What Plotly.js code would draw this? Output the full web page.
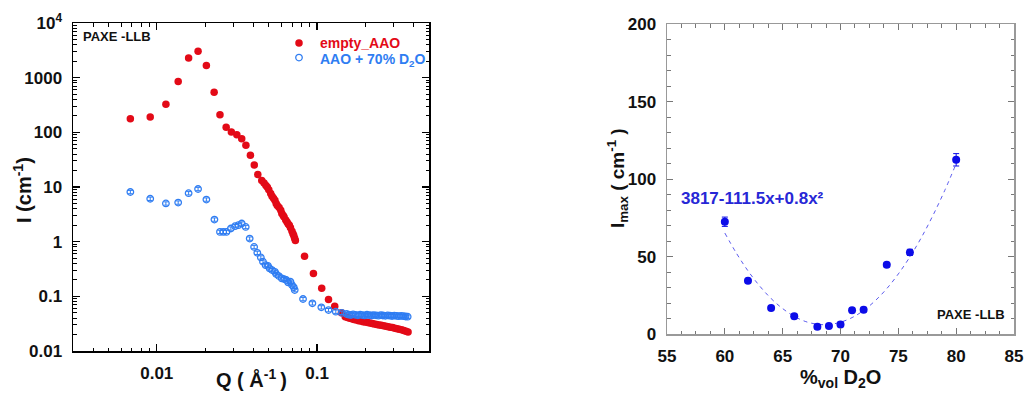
<!DOCTYPE html>
<html><head><meta charset="utf-8">
<script src="https://cdn.plot.ly/plotly-3.0.1.min.js"></script>
<style>html,body{margin:0;padding:0;background:#fff}#chart{width:1026px;height:394px}</style>
</head><body><div id="chart"></div>
<script>
// ---- Left panel: I(Q) ----
const Q_empty = [0.00684,0.0091,0.0114,0.0136,0.0158,0.0181,0.0204,0.0228,0.0248,0.0271,
  0.0292,0.0316,0.0339,0.0360,0.0384,0.0406,0.0427,0.0452,0.0467,0.0480,
  0.0490,0.0500,0.0514,0.0524,0.0535,0.0546,0.0556,0.0565,0.0580,0.0594,
  0.0603,0.0615,0.0623,0.0638,0.0650,0.0661,0.0672,0.0683,0.0698,0.0708,
  0.0716,0.0725,0.0733,0.0836,0.0950,0.107,0.118,0.129,0.142,
  0.150,0.155,0.160,0.165,0.170,0.176,0.182,0.188,0.194,0.200,
  0.207,0.214,0.221,0.228,0.236,0.244,0.252,0.260,0.269,0.278,
  0.287,0.296,0.306,0.316,0.326,0.337,0.348,0.359,0.370];
const I_empty = [177,190,327,849,2296,3034,1663,542,209,124,
  101,90,76,58,37.9,25.2,17.0,13.2,11.8,10.7,
  9.9,8.9,7.6,6.8,6.2,5.7,5.0,4.6,4.2,3.76,
  3.27,3.0,2.84,2.5,2.3,2.1,2.0,1.8,1.55,1.4,
  1.3,1.15,1.05,0.543,0.263,0.140,0.0875,0.0656,0.0502,
  0.0425,0.0412,0.0398,0.0388,0.0376,0.0368,0.0357,0.0352,0.0344,0.0338,
  0.0333,0.0325,0.0318,0.0312,0.0306,0.0300,0.0296,0.0290,0.0284,0.0279,
  0.0273,0.0268,0.0262,0.0256,0.0251,0.0244,0.0238,0.0230,0.0222];

const Q_d2o = [0.00684,0.0091,0.0114,0.0136,0.0158,0.0181,0.0204,0.0229,0.0248,0.0260,
  0.0272,0.0290,0.0308,0.0323,0.0339,0.0359,0.0380,0.0405,0.0424,0.0446,
  0.0460,0.0478,0.0494,0.0506,0.0524,0.0546,0.0556,0.0578,0.0603,0.0623,
  0.0643,0.0661,0.0683,0.0698,0.0716,0.0726,0.0818,0.0936,0.1064,0.118,0.131,0.143,
  0.153,0.158,0.163,0.168,0.174,0.180,0.186,0.192,0.198,0.205,
  0.212,0.219,0.226,0.234,0.242,0.250,0.258,0.267,0.276,0.285,
  0.294,0.304,0.314,0.324,0.335,0.346,0.357,0.368];
const I_d2o = [8.1,6.1,5.0,5.2,7.7,9.2,5.9,2.54,1.51,1.51,
  1.51,1.74,1.92,2.0,2.15,1.86,1.14,0.80,0.625,0.515,
  0.43,0.372,0.362,0.324,0.302,0.281,0.255,0.235,0.213,0.207,
  0.199,0.180,0.185,0.161,0.146,0.130,0.0893,0.0745,0.063,0.056,0.0524,0.050,
  0.0475,0.0462,0.0455,0.0468,0.0458,0.0450,0.0462,0.0455,0.0448,0.0460,
  0.0452,0.0446,0.0455,0.0449,0.0443,0.0452,0.0446,0.0440,0.0448,0.0442,
  0.0437,0.0445,0.0438,0.0433,0.0440,0.0434,0.0428,0.0425];

const seriesNames = ['empty_AAO', 'AAO + 70% D<sub>2</sub>O'];
const yTickVals = [0.01,0.1,1,10,100,1000,10000];
const yTickText = ['0.01','0.1','1','10','100','1000','10<sup>4</sup>'];
const xTickVals = [0.01,0.1];
const xTickText = ['0.01','0.1'];

// ---- Right panel: Imax vs %vol D2O ----
const D2O_pct = [60,62,64,66,68,69,70,71,72,74,76,80];
const I_max = [72.5,34.4,16.8,11.4,4.7,5.2,6.2,15.3,15.7,44.7,52.7,112.5];
const I_max_err = [3,1.5,1.5,1.5,1.5,1.5,1.5,1.5,1.5,1.5,2,4];
const fit_x = [60,61,62,63,64,65,66,67,68,69,70,71,72,73,74,75,76,77,78,79,80];
const fit_y = [65.2,52.2,40.8,31.1,22.9,16.4,11.4,8.0,6.3,6.1,7.6,10.6,15.2,21.5,29.3,38.8,49.8,62.4,76.7,92.5,110];
const fitLabel = '3817-111.5x+0.8x²';

// minor tick positions for the log axes
function logMinor(lo, hi){ const v=[]; for(let e=lo;e<hi;e++){for(let m=2;m<=9;m++) v.push(m*Math.pow(10,e));} return v; }

const FONT = 'Arial, "Liberation Sans", sans-serif';
const RED = '#e30a17', BLUE_L = '#2f7df2', BLUE_R = '#0c0ce8';

const traces = [
  {x:Q_empty, y:I_empty, type:'scatter', mode:'markers', name:' ', legend:'legend',
   marker:{symbol:'circle', size:7.5, color:RED}, xaxis:'x', yaxis:'y'},
  {x:Q_d2o, y:I_d2o, type:'scatter', mode:'markers', name:' ', legend:'legend2',
   marker:{symbol:'circle-open', size:6.5, color:BLUE_L, line:{width:1.3}},
   error_y:{type:'percent', value:7, color:BLUE_L, thickness:1, width:2.5},
   xaxis:'x', yaxis:'y'},
  {x:fit_x, y:fit_y, type:'scatter', mode:'lines', showlegend:false,
   line:{color:'#5b5bee', width:1, dash:'4px,4px', shape:'spline'}, xaxis:'x2', yaxis:'y2'},
  {x:D2O_pct, y:I_max, type:'scatter', mode:'markers', showlegend:false,
   marker:{symbol:'circle', size:8, color:BLUE_R},
   error_y:{type:'data', array:I_max_err, color:BLUE_R, thickness:1, width:3},
   xaxis:'x2', yaxis:'y2'}
];

const tickFont = {family:FONT, size:17, color:'#111', weight:'bold'};
const legendBase = {xanchor:'left', yanchor:'middle', bgcolor:'rgba(0,0,0,0)', itemwidth:30,
  font:{family:FONT, size:14, weight:'bold'}};

const layout = {
  width:1026, height:394, margin:{l:0,r:0,t:0,b:0},
  paper_bgcolor:'#fff', plot_bgcolor:'#fff',
  font:{family:FONT},
  showlegend:true,
  legend:Object.assign({x:279/1026, y:1-43.5/394}, legendBase),
  legend2:Object.assign({x:279/1026, y:1-58/394}, legendBase),
  xaxis:{domain:[73/1026, 429/1026], type:'log', range:[Math.log10(0.003), Math.log10(0.5)],
    tickmode:'array', tickvals:xTickVals, ticktext:xTickText,
    ticks:'inside', ticklen:7, tickwidth:1.3, tickcolor:'#000',
    minor:{tickmode:'array', tickvals:logMinor(-3,0), ticks:'inside', ticklen:3.5, tickwidth:1, tickcolor:'#000', showgrid:false},
    showline:true, linecolor:'#000', linewidth:1.5, mirror:'ticks', showgrid:false, zeroline:false,
    tickfont:tickFont, ticklabelstandoff:6, anchor:'y'},
  yaxis:{domain:[1-351/394, 1-23/394], type:'log', range:[-2,4],
    tickmode:'array', tickvals:yTickVals, ticktext:yTickText,
    ticks:'inside', ticklen:7, tickwidth:1.3, tickcolor:'#000',
    minor:{tickmode:'array', tickvals:logMinor(-2,4), ticks:'inside', ticklen:3.5, tickwidth:1, tickcolor:'#000', showgrid:false},
    showline:true, linecolor:'#000', linewidth:1.5, mirror:'ticks', showgrid:false, zeroline:false,
    tickfont:tickFont, ticklabelstandoff:6, anchor:'x'},
  xaxis2:{domain:[667/1026, 1014/1026], range:[55,85], dtick:5, tick0:55,
    ticks:'inside', ticklen:6, tickwidth:1.2, tickcolor:'#777',
    minor:{dtick:1.25, ticks:'inside', ticklen:3.5, tickwidth:1, tickcolor:'#777', showgrid:false},
    showline:true, linecolor:'#999', linewidth:1.5, mirror:'ticks', showgrid:false, zeroline:false,
    tickfont:tickFont, ticklabelstandoff:6, anchor:'y2'},
  yaxis2:{domain:[1-334/394, 1-24.3/394], range:[0,200], dtick:50, tick0:0,
    ticks:'inside', ticklen:6, tickwidth:1.2, tickcolor:'#777',
    minor:{dtick:10, ticks:'inside', ticklen:3.5, tickwidth:1, tickcolor:'#777', showgrid:false},
    showline:true, linecolor:'#999', linewidth:1.5, mirror:'ticks', showgrid:false, zeroline:false,
    tickfont:tickFont, ticklabelstandoff:6, anchor:'x2'},
  annotations:[
    {xref:'paper', yref:'paper', x:318/1026, y:1-43.5/394, text:seriesNames[0], xanchor:'left', yanchor:'middle',
     showarrow:false, font:{family:FONT, size:14, weight:'bold', color:RED}},
    {xref:'paper', yref:'paper', x:318/1026, y:1-60/394, text:seriesNames[1], xanchor:'left', yanchor:'middle',
     showarrow:false, font:{family:FONT, size:14, weight:'bold', color:BLUE_L}},
    {xref:'paper', yref:'paper', x:22/1026, y:1-190/394, text:'I (cm<sup>-1</sup>)', textangle:-90,
     showarrow:false, font:{family:FONT, size:20, weight:'bold', color:'#111'}, xanchor:'center', yanchor:'middle'},
    {xref:'paper', yref:'paper', x:251/1026, y:1-378/394, text:'Q ( Å<sup>-1 </sup>)',
     showarrow:false, font:{family:FONT, size:20, weight:'bold', color:'#111'}, xanchor:'center', yanchor:'middle'},
    {xref:'x', yref:'y', x:Math.log10(0.00338), y:3.75, text:'PAXE -LLB', xanchor:'left', yanchor:'middle',
     showarrow:false, font:{family:FONT, size:13, weight:'bold', color:'#111'}},
    {xref:'paper', yref:'paper', x:617/1026, y:1-178/394, text:'I<sub>max</sub> ( cm<sup>-1</sup> )', textangle:-90,
     showarrow:false, font:{family:FONT, size:19, weight:'bold', color:'#111'}, xanchor:'center', yanchor:'middle'},
    {xref:'paper', yref:'paper', x:840/1026, y:1-378/394, text:'%<sub>vol</sub> D<sub>2</sub>O',
     showarrow:false, font:{family:FONT, size:20, weight:'bold', color:'#111'}, xanchor:'center', yanchor:'middle'},
    {xref:'x2', yref:'y2', x:56, y:87.6, text:fitLabel, xanchor:'left', yanchor:'middle',
     showarrow:false, font:{family:FONT, size:17, weight:'bold', color:'#2727d6'}},
    {xref:'x2', yref:'y2', x:84.4, y:12.9, text:'PAXE -LLB', xanchor:'right', yanchor:'middle',
     showarrow:false, font:{family:FONT, size:13, weight:'bold', color:'#111'}}
  ]
};

Plotly.newPlot('chart', traces, layout, {staticPlot:true, displayModeBar:false});
</script></body></html>
